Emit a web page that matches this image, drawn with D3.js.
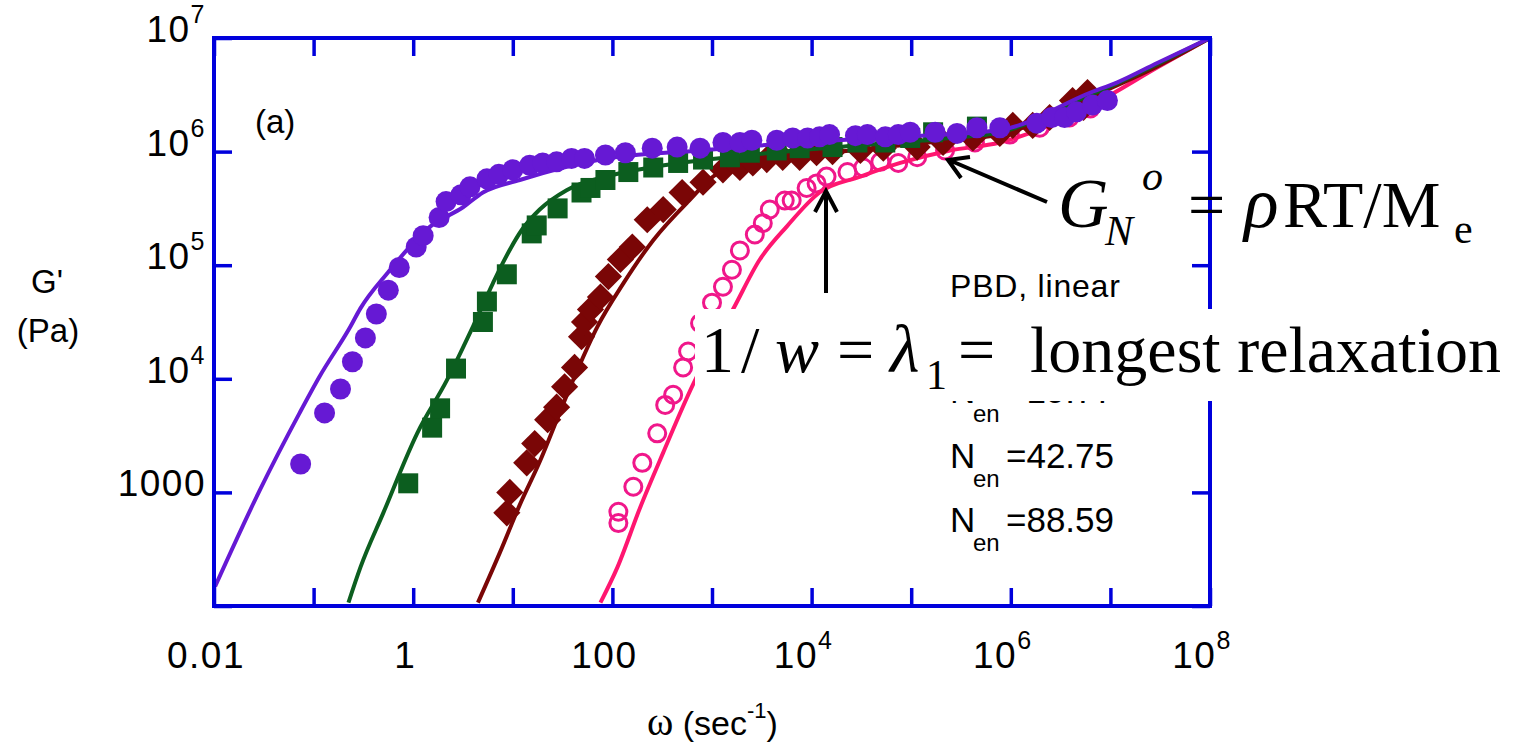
<!DOCTYPE html>
<html>
<head>
<meta charset="utf-8">
<script src="https://cdn.jsdelivr.net/npm/d3@7"></script>
<style>
  body { margin: 0; background: #fff; }
  svg { display: block; }
  text { font-family: "Liberation Sans", Arial, Helvetica, sans-serif; fill: #000; }
  .serif { font-family: "Liberation Serif", "Times New Roman", serif; }
</style>
</head>
<body>
<svg width="1517" height="745"></svg>
<script>
// values, stored as [log10(omega), log10(G')]
var purplePts = [[-1.13,3.25],[-0.89,3.70],[-0.73,3.91],[-0.61,4.15],[-0.48,4.36],[-0.37,4.57],[-0.25,4.78],[-0.14,4.98],
  [0.03,5.16],[0.10,5.26],[0.26,5.42],[0.33,5.56],[0.48,5.62],[0.57,5.69],[0.74,5.76],[0.86,5.80],[1.00,5.84],[1.17,5.88],
  [1.30,5.90],[1.44,5.91],[1.59,5.94],[1.72,5.94],[1.93,5.97],[2.13,5.99],[2.40,6.03],[2.65,6.04],[2.88,6.03],[3.11,6.08],
  [3.28,6.08],[3.40,6.10],[3.65,6.10],[3.81,6.12],[3.96,6.12],[4.08,6.13],[4.18,6.15],[4.44,6.14],[4.56,6.15],[4.74,6.13],
  [4.87,6.15],[4.99,6.17],[5.24,6.17],[5.46,6.16],[5.66,6.21],[5.89,6.21],[6.26,6.25],[6.41,6.30],[6.54,6.30],[6.66,6.35],
  [6.82,6.41],[6.97,6.45]];
var purpleFit = [[-1.99,2.17],[-1.54,3.02],[-1.14,3.70],[-0.94,4.02],[-0.63,4.46],[-0.53,4.62],[-0.26,4.93],[0.17,5.34],
  [0.50,5.51],[0.70,5.64],[1.07,5.75],[1.88,5.93],[2.88,6.01],[3.88,6.08],[4.89,6.13],[5.89,6.19],[6.80,6.52],[7.07,6.61],
  [7.47,6.78],[8.00,7.00]];

var greenPts = [[-0.05,3.08],[0.19,3.57],[0.27,3.74],[0.43,4.09],[0.70,4.50],[0.74,4.68],[0.94,4.92],[1.19,5.28],[1.24,5.35],
  [1.45,5.50],[1.69,5.64],[1.78,5.68],[1.93,5.75],[2.16,5.82],[2.41,5.86],[2.66,5.90],[2.91,5.93],[3.18,5.95],[3.38,5.99],
  [3.65,6.01],[3.88,6.03],[4.21,6.04],[4.46,6.08],[4.74,6.08],[4.99,6.12],[5.22,6.17],[5.66,6.22]];
var greenFit = [[-0.65,2.03],[-0.53,2.34],[-0.30,2.82],[0.04,3.52],[0.34,3.99],[0.60,4.46],[0.80,4.84],[0.90,5.02],[1.09,5.31],
  [1.27,5.49],[1.54,5.66],[1.98,5.79],[2.38,5.86],[3.38,5.97],[4.39,6.05],[5.39,6.12],[5.89,6.17],[6.80,6.50],[7.07,6.60],
  [7.47,6.77],[8.00,7.00]];

var redPts = [[0.94,2.82],[0.97,3.00],[1.14,3.26],[1.22,3.43],[1.35,3.64],[1.44,3.75],[1.52,3.93],[1.62,4.10],[1.69,4.37],
  [1.72,4.50],[1.78,4.61],[1.88,4.72],[1.96,4.90],[2.08,5.05],[2.20,5.16],[2.35,5.40],[2.51,5.49],[2.70,5.64],[2.91,5.73],
  [3.11,5.84],[3.28,5.86],[3.41,5.90],[3.55,5.93],[3.71,5.95],[3.88,5.95],[4.05,5.99],[4.21,6.00],[4.49,6.01],[4.72,6.03],
  [5.06,6.04],[5.32,6.08],[5.62,6.12],[5.89,6.16],[6.02,6.23],[6.22,6.23],[6.39,6.30],[6.56,6.34],[6.62,6.45],[6.73,6.39],
  [6.77,6.52],[6.82,6.45]];
var redFit = [[0.65,2.03],[0.87,2.47],[1.07,2.89],[1.27,3.27],[1.47,3.70],[1.65,4.08],[1.85,4.46],[2.11,4.84],[2.41,5.22],
  [2.75,5.55],[3.08,5.82],[3.71,5.95],[4.39,6.01],[5.39,6.10],[5.89,6.15],[6.80,6.48],[7.47,6.75],[8.00,7.00]];

var pinkPts = [[2.06,2.73],[2.06,2.83],[2.21,3.05],[2.30,3.26],[2.45,3.52],[2.53,3.77],[2.61,3.86],[2.71,4.10],[2.76,4.24],
  [2.88,4.49],[3.00,4.67],[3.11,4.81],[3.20,4.96],[3.28,5.13],[3.43,5.27],[3.51,5.37],[3.58,5.49],[3.73,5.57],[3.80,5.57],
  [3.95,5.68],[4.05,5.72],[4.15,5.78],[4.36,5.82],[4.52,5.86],[4.69,5.91],[4.87,5.90],[5.06,5.95],[5.34,6.01],[5.64,6.08],
  [5.99,6.15],[6.29,6.21],[6.59,6.30],[6.80,6.38]];
var pinkFit = [[1.88,2.03],[2.05,2.34],[2.28,2.87],[2.51,3.35],[2.81,3.95],[3.00,4.28],[3.21,4.61],[3.48,5.05],[3.75,5.34],
  [4.08,5.64],[4.49,5.78],[4.89,5.90],[5.39,6.01],[5.89,6.08],[6.39,6.23],[6.90,6.45],[7.47,6.74],[8.00,7.00]];

var xTicks = [0.01, 0.1, 1, 10, 100, 1000, 1e4, 1e5, 1e6, 1e7, 1e8];
var xLabelValues = [0.01, 1, 100, 1e4, 1e6, 1e8];
var xLabelTexts = [["0.01"], ["1"], ["100"], ["10", "4"], ["10", "6"], ["10", "8"]];
var yTicks = [100, 1000, 1e4, 1e5, 1e6, 1e7];
var yLabelValues = [1000, 1e4, 1e5, 1e6, 1e7];
var yLabelTexts = [["1000"], ["10", "4"], ["10", "5"], ["10", "6"], ["10", "7"]];

var nenLabels = ["=19.77", "=42.75", "=88.59"];

var plotLeft = 214, plotRight = 1210, plotTop = 38, plotBottom = 606;
var axisBlue = "#0000dc";

var x = d3.scaleLog().domain([0.01, 1e8]).range([plotLeft, plotRight]);
var y = d3.scaleLog().domain([100, 1e7]).range([plotBottom, plotTop]);

var svg = d3.select("svg");

svg.append("clipPath").attr("id", "plotclip")
  .append("rect").attr("x", plotLeft).attr("y", plotTop)
  .attr("width", plotRight - plotLeft).attr("height", plotBottom - plotTop);

var px = function(d) { return x(Math.pow(10, d[0])); };
var py = function(d) { return y(Math.pow(10, d[1])); };
var fitLine = d3.line().x(px).y(py).curve(d3.curveMonotoneX);

var plot = svg.append("g").attr("clip-path", "url(#plotclip)");

// pink: open circles
plot.append("g").selectAll("circle").data(pinkPts).enter()
  .append("circle")
  .attr("cx", px).attr("cy", py).attr("r", 8.5)
  .attr("fill", "none").attr("stroke", "#f0178a").attr("stroke-width", 3);
plot.append("path").datum(pinkFit).attr("d", fitLine)
  .attr("fill", "none").attr("stroke", "#ff1670").attr("stroke-width", 4);

// dark red: diamonds
plot.append("path").datum(redFit).attr("d", fitLine)
  .attr("fill", "none").attr("stroke", "#7a0606").attr("stroke-width", 4);
plot.append("g").selectAll("path").data(redPts).enter()
  .append("path")
  .attr("d", d3.symbol(d3.symbolSquare, 370))
  .attr("transform", function(d) { return "translate(" + px(d) + "," + py(d) + ") rotate(45)"; })
  .attr("fill", "#7a0606");

// green: squares
plot.append("path").datum(greenFit).attr("d", fitLine)
  .attr("fill", "none").attr("stroke", "#0c5e1f").attr("stroke-width", 4);
plot.append("g").selectAll("path").data(greenPts).enter()
  .append("path")
  .attr("d", d3.symbol(d3.symbolSquare, 400))
  .attr("transform", function(d) { return "translate(" + px(d) + "," + py(d) + ")"; })
  .attr("fill", "#0c5e1f");

// purple: filled circles
plot.append("path").datum(purpleFit).attr("d", fitLine)
  .attr("fill", "none").attr("stroke", "#6619d4").attr("stroke-width", 4);
plot.append("g").selectAll("circle").data(purplePts).enter()
  .append("circle")
  .attr("cx", px).attr("cy", py).attr("r", 10.5)
  .attr("fill", "#6619d4");

// axes: inward ticks on all four sides
function styleAxis(g) {
  g.select(".domain").remove();
  g.selectAll(".tick line").attr("stroke", axisBlue).attr("stroke-width", 3.5);
  g.selectAll(".tick text").remove();
}
svg.append("g").attr("transform", "translate(0," + plotBottom + ")")
  .call(d3.axisBottom(x).tickValues(xTicks).tickSize(-18).tickFormat("")).call(styleAxis);
svg.append("g").attr("transform", "translate(0," + plotTop + ")")
  .call(d3.axisTop(x).tickValues(xTicks).tickSize(-18).tickFormat("")).call(styleAxis);
svg.append("g").attr("transform", "translate(" + plotLeft + ",0)")
  .call(d3.axisLeft(y).tickValues(yTicks).tickSize(-18).tickFormat("")).call(styleAxis);
svg.append("g").attr("transform", "translate(" + plotRight + ",0)")
  .call(d3.axisRight(y).tickValues(yTicks).tickSize(-18).tickFormat("")).call(styleAxis);

svg.append("rect")
  .attr("x", plotLeft).attr("y", plotTop)
  .attr("width", plotRight - plotLeft).attr("height", plotBottom - plotTop)
  .attr("fill", "none").attr("stroke", axisBlue).attr("stroke-width", 4);

function powerLabel(t, parts) {
  t.append("tspan").text(parts[0]);
  if (parts[1]) t.append("tspan").attr("font-size", 25).attr("dy", -19).text(parts[1]);
}

svg.append("g").selectAll("text").data(xLabelValues).enter()
  .append("text")
  .attr("x", function(d) { return x(d) - 8; })
  .attr("y", 668)
  .attr("text-anchor", "middle")
  .attr("font-size", 37)
  .attr("letter-spacing", 1.5)
  .each(function(d, i) { powerLabel(d3.select(this), xLabelTexts[i]); });

svg.append("g").selectAll("text").data(yLabelValues).enter()
  .append("text")
  .attr("x", 206)
  .attr("y", function(d) { return y(d) + 4; })
  .attr("text-anchor", "end")
  .attr("font-size", 37)
  .attr("letter-spacing", 1.5)
  .each(function(d, i) { powerLabel(d3.select(this), yLabelTexts[i]); });

// axis titles
svg.append("text").attr("x", 47).attr("y", 293).attr("text-anchor", "middle").attr("font-size", 33).text("G'");
svg.append("text").attr("x", 48).attr("y", 342).attr("text-anchor", "middle").attr("font-size", 33).text("(Pa)");

var xt = svg.append("text").attr("x", 647).attr("y", 735).attr("font-size", 34);
xt.append("tspan").attr("class", "serif").attr("font-size", 40).text("ω");
xt.append("tspan").text(" (sec");
xt.append("tspan").attr("font-size", 22).attr("dy", -17).text("-1");
xt.append("tspan").attr("dy", 17).text(")");

svg.append("text").attr("x", 255).attr("y", 133).attr("font-size", 33).text("(a)");

// legend
svg.append("text").attr("x", 950).attr("y", 297).attr("font-size", 32).attr("letter-spacing", 0.8).text("PBD, linear");
var legend = svg.append("g").selectAll("g").data(nenLabels).enter().append("g")
  .attr("transform", function(d, i) { return "translate(950," + (403 + i * 64.5) + ")"; });
legend.append("text").attr("font-size", 35).text("N");
legend.append("text").attr("x", 23).attr("y", 19).attr("font-size", 24).text("en");
legend.append("text").attr("x", 56).attr("font-size", 35).text(function(d) { return d; });

// white band behind the relaxation note
svg.append("rect").attr("x", 695).attr("y", 309).attr("width", 822).attr("height", 92).attr("fill", "#fff");

// annotation: 1/w = lambda_1 = longest relaxation
var note = svg.append("g");
note.append("text").attr("class", "serif").attr("x", 701).attr("y", 372).attr("font-size", 66).text("1");
note.append("text").attr("class", "serif").attr("x", 741).attr("y", 372).attr("font-size", 66).text("/");
note.append("text").attr("class", "serif").attr("x", 775).attr("y", 372).attr("font-size", 66).attr("font-style", "italic").text("w");
note.append("text").attr("class", "serif").attr("x", 837).attr("y", 372).attr("font-size", 66).text("=");
note.append("text").attr("class", "serif").attr("x", 890).attr("y", 372).attr("font-size", 68).attr("font-style", "italic").text("λ");
note.append("text").attr("class", "serif").attr("x", 926).attr("y", 389).attr("font-size", 42).text("1");
note.append("text").attr("class", "serif").attr("x", 958).attr("y", 372).attr("font-size", 66).text("=");
note.append("text").attr("class", "serif").attr("x", 1030).attr("y", 372).attr("font-size", 66).text("longest relaxation");

// annotation: G_N^o = rho RT / M_e
var gn = svg.append("g");
gn.append("text").attr("class", "serif").attr("x", 1058).attr("y", 227).attr("font-size", 70).attr("font-style", "italic").text("G");
gn.append("text").attr("class", "serif").attr("x", 1105).attr("y", 245).attr("font-size", 42).attr("font-style", "italic").text("N");
gn.append("text").attr("class", "serif").attr("x", 1142).attr("y", 190).attr("font-size", 42).attr("font-style", "italic").text("o");
gn.append("text").attr("class", "serif").attr("x", 1188).attr("y", 227).attr("font-size", 66).text("=");
gn.append("text").attr("class", "serif").attr("x", 1244).attr("y", 227).attr("font-size", 72).attr("font-style", "italic").text("ρ");
gn.append("text").attr("class", "serif").attr("x", 1283).attr("y", 227).attr("font-size", 66).text("RT/M");
gn.append("text").attr("class", "serif").attr("x", 1454).attr("y", 243).attr("font-size", 42).text("e");

// arrows
var arrows = svg.append("g").attr("fill", "none").attr("stroke", "#000").attr("stroke-width", 4)
  .attr("stroke-linejoin", "miter").attr("stroke-linecap", "butt");
arrows.append("path").attr("d", "M826,293 L826,192 M815,212 L826,191 L837,212");
arrows.append("path").attr("d", "M1047,202 L949,160 M961,178 L948,160 L970,157");
</script>
</body>
</html>
